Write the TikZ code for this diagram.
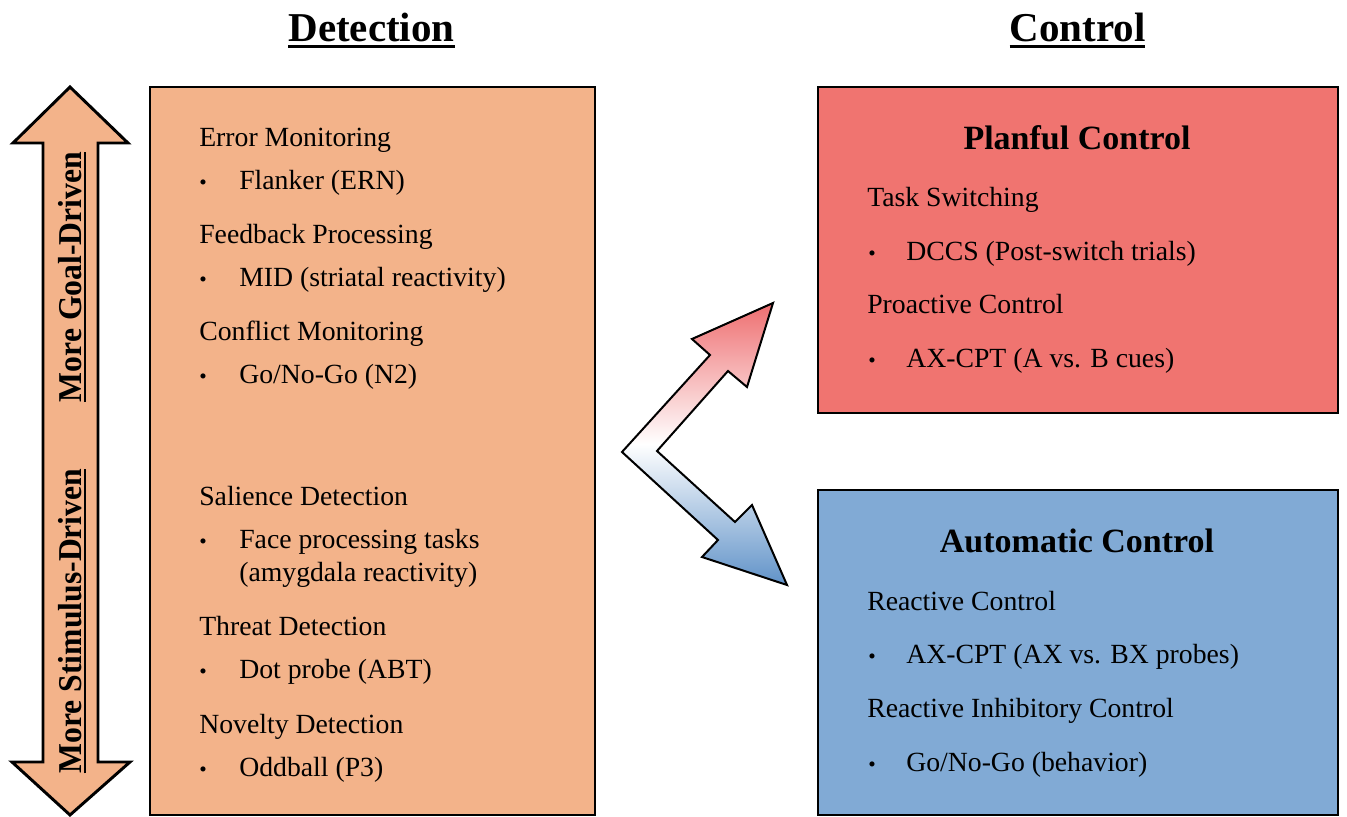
\documentclass[tikz,border=0pt]{standalone}
\usepackage{fontspec}
\setmainfont{Liberation Serif}
\definecolor{peach}{RGB}{243,179,138}
\definecolor{planred}{RGB}{240,116,112}
\definecolor{autoblue}{RGB}{129,170,213}
\definecolor{arrred}{RGB}{238,110,112}
\definecolor{arrblue}{RGB}{96,146,200}
\newcommand\ulbox[1]{\setbox0\hbox{#1}\rlap{\rule[-0.15em]{\wd0}{0.075em}}\box0}
\tikzset{
  box/.style={draw=black, line width=2.2pt, inner sep=0pt},
  title/.style={anchor=base, inner sep=0pt, font=\bfseries\fontsize{30.75}{32}\selectfont},
  boxtitle/.style={anchor=base, inner sep=0pt, font=\bfseries\fontsize{25.5}{27}\selectfont},
  head/.style={anchor=base west, inner sep=0pt, font=\fontsize{20.8}{25}\selectfont},
  item/.style={anchor=base west, inner sep=0pt, font=\fontsize{20.8}{25}\selectfont},
  bul/.style={anchor=base, inner sep=0pt, font=\fontsize{16}{16}\selectfont},
  vlabel/.style={rotate=90, anchor=base, inner sep=0pt, font=\bfseries\fontsize{25}{25}\selectfont},
}
\begin{document}
\begin{tikzpicture}[x=0.75pt,y=-0.75pt]
\useasboundingbox (0,0) rectangle (1347,817);

% titles
\node[title] (dettitle) at (371.5,42) {\ulbox{Detection}};
\node[title] (ctltitle) at (1077.5,42) {\ulbox{Control}};

% boxes
\node[box, fill=peach, minimum width=333.75pt, minimum height=546pt] (detbox) at (372.5,451) {};
\node[box, fill=planred, minimum width=390pt, minimum height=244.5pt] (planbox) at (1078,250) {};
\node[box, fill=autoblue, minimum width=390pt, minimum height=243.75pt] (autobox) at (1078,652.5) {};

% vertical double arrow
\draw[line width=2.2pt, fill=peach, line join=miter]
  (70,87) -- (128,143) -- (98,143) -- (98,762) -- (130,762) -- (70,815)
  -- (12,762) -- (43,762) -- (43,143) -- (13,143) -- cycle;
\node[vlabel] (goal) at (81,277) {\ulbox{\scalebox{0.95}[1]{More Goal-Driven}}};
\node[vlabel] (stim) at (81,621) {\ulbox{\scalebox{0.95}[1]{More Stimulus-Driven}}};

% zigzag arrow
\shadedraw[top color=arrred, bottom color=arrblue, middle color=white, line width=1.5pt, line join=miter]
  (773,303) -- (747,387) -- (728,371) -- (657,451) -- (735,522) -- (752,505)
  -- (787,585) -- (702,557) -- (718,540) -- (622,452) -- (710,355) -- (692,339) -- cycle;

% detection box text
\node[head] (h1) at (199,146.7) {Error Monitoring};
\node[bul] (b1) at (203,190) {\textbullet};
\node[item] (i1) at (239,190) {Flanker (ERN)};
\node[head] (h2) at (199,243.3) {Feedback Processing};
\node[bul] (b2) at (203,286.7) {\textbullet};
\node[item] (i2) at (239,286.7) {MID (striatal reactivity)};
\node[head] (h3) at (199,340) {Conflict Monitoring};
\node[bul] (b3) at (203,383.3) {\textbullet};
\node[item] (i3) at (239,383.3) {Go/No-Go (N2)};
\node[head] (h4) at (199,505) {Salience Detection};
\node[bul] (b4) at (203,548.3) {\textbullet};
\node[item] (i4) at (239,548.3) {Face processing tasks};
\node[item] (i4b) at (239,581.5) {(amygdala reactivity)};
\node[head] (h5) at (199,635) {Threat Detection};
\node[bul] (b5) at (203,678.3) {\textbullet};
\node[item] (i5) at (239,678.3) {Dot probe (ABT)};
\node[head] (h6) at (199,733.3) {Novelty Detection};
\node[bul] (b6) at (203,776) {\textbullet};
\node[item] (i6) at (239,776) {Oddball (P3)};

% planful box text
\node[boxtitle] (pt) at (1077,150) {Planful Control};
\node[head] (ph1) at (867,206.7) {Task Switching};
\node[bul] (pb1) at (872,260) {\textbullet};
\node[item] (pi1) at (906,260) {DCCS (Post-switch trials)};
\node[head] (ph2) at (867,313.3) {Proactive Control};
\node[bul] (pb2) at (872,367.3) {\textbullet};
\node[item] (pi2) at (906,367.3) {AX-CPT (A vs. B cues)};

% automatic box text
\node[boxtitle] (at) at (1077,552.7) {Automatic Control};
\node[head] (ah1) at (867,610) {Reactive Control};
\node[bul] (ab1) at (872,663.3) {\textbullet};
\node[item] (ai1) at (906,663.3) {AX-CPT (AX vs. BX probes)};
\node[head] (ah2) at (867,717.3) {Reactive Inhibitory Control};
\node[bul] (ab2) at (872,771.7) {\textbullet};
\node[item] (ai2) at (906,771.7) {Go/No-Go (behavior)};
\end{tikzpicture}
\end{document}
